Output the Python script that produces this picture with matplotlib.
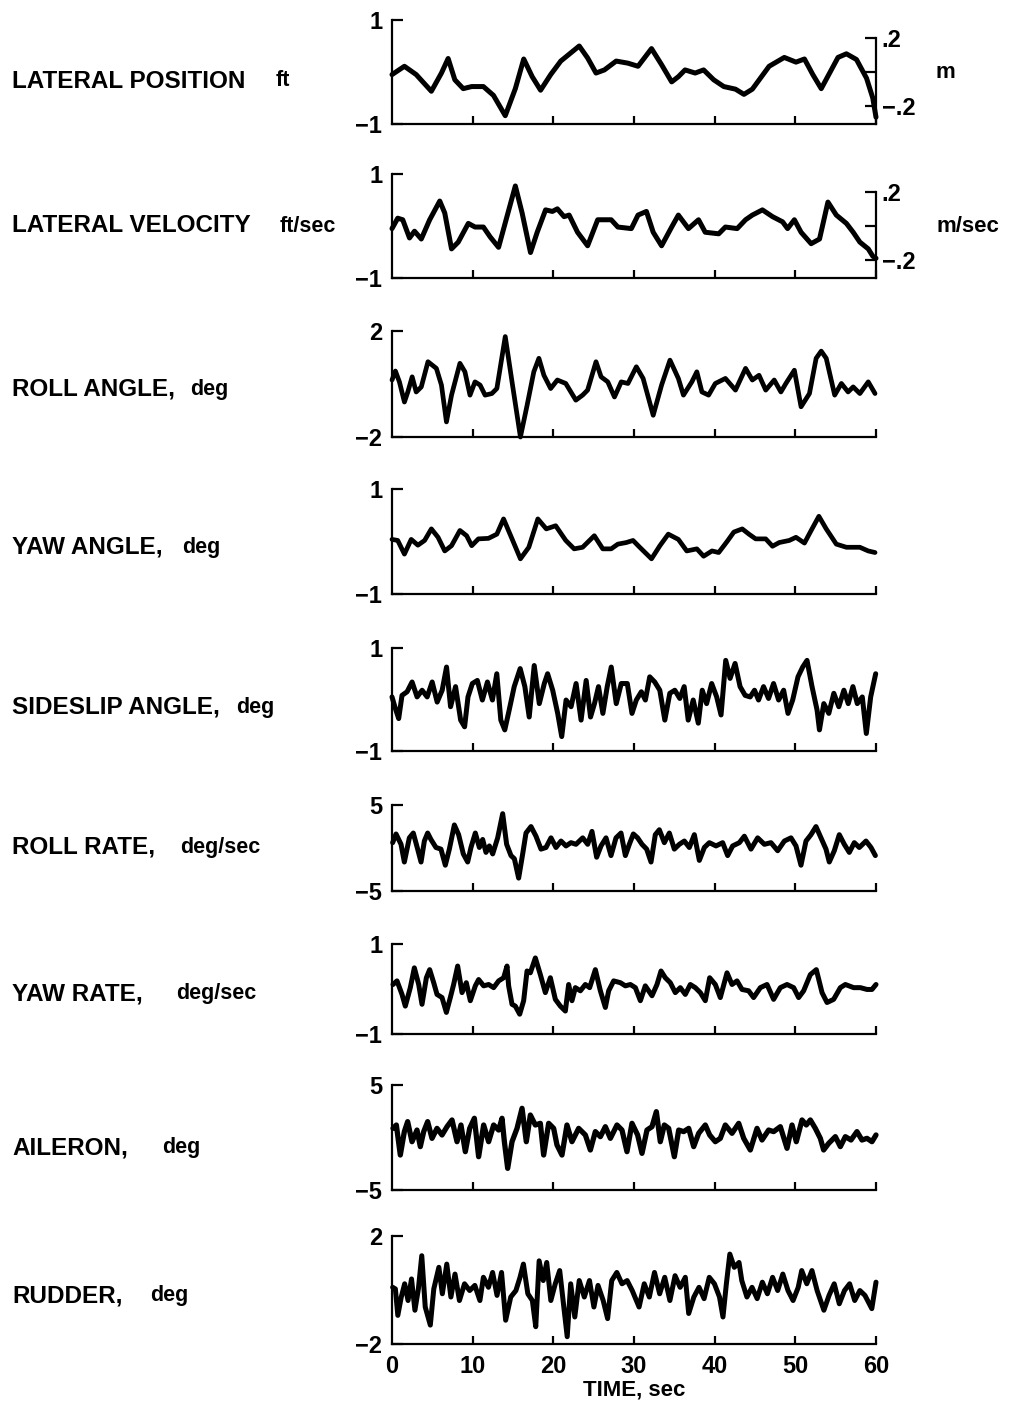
import matplotlib
matplotlib.use("Agg")
import matplotlib.pyplot as plt

plt.rcParams['font.family'] = ['Liberation Sans', 'DejaVu Sans']
plt.rcParams['font.weight'] = 'bold'

# ---------------- data ----------------
t_latpos = [0, 1.54, 3.0, 4.88, 6.13, 6.96, 7.79, 8.83, 9.88, 11.33, 12.58, 14.04, 15.29, 16.33,
            17.38, 18.42, 19.67, 20.92, 23.21, 24.25, 25.29, 26.33, 27.79, 29.25, 30.5, 32.17,
            33.42, 34.67, 35.5, 36.33, 37.58, 38.63, 39.88, 41.13, 42.58, 43.63, 44.67, 46.75,
            48.63, 50.08, 51.13, 52.17, 53.21, 54.25, 55.29, 56.33, 57.58, 58.83, 59.6, 60.0]
latpos = [-0.05, 0.11, -0.05, -0.37, -0.02, 0.26, -0.15, -0.32, -0.28, -0.28, -0.45, -0.84, -0.32,
          0.25, -0.09, -0.35, -0.05, 0.21, 0.50, 0.27, -0.02, 0.04, 0.21, 0.17, 0.11, 0.45,
          0.14, -0.19, -0.09, 0.04, -0.02, 0.04, -0.15, -0.28, -0.33, -0.43, -0.33, 0.11,
          0.28, 0.19, 0.25, -0.05, -0.32, -0.02, 0.28, 0.35, 0.24, -0.12, -0.50, -0.87]

t_latvel = [0, 0.71, 1.33, 2.17, 2.79, 3.63, 4.67, 5.92, 6.54, 7.38, 8.21, 9.46, 10.29, 11.33,
            12.17, 13.21, 14.25, 15.29, 16.13, 17.17, 18.0, 19.04, 19.88, 20.5, 21.33, 21.96,
            23.0, 24.25, 25.5, 27.17, 28.0, 29.67, 30.5, 31.54, 32.38, 33.42, 34.67, 35.5,
            36.75, 38.0, 38.83, 40.5, 41.33, 42.79, 43.83, 44.67, 45.92, 47.17, 48.42, 49.04,
            49.88, 50.71, 51.96, 53.0, 54.04, 55.08, 56.33, 57.17, 58.0, 59.04, 59.6, 60.0]
latvel = [-0.05, 0.15, 0.12, -0.23, -0.10, -0.25, 0.12, 0.48, 0.25, -0.44, -0.31, 0.05, -0.02, -0.02,
          -0.21, -0.41, 0.18, 0.77, 0.25, -0.51, -0.12, 0.31, 0.28, 0.33, 0.18, 0.21,
          -0.12, -0.38, 0.12, 0.12, -0.02, -0.05, 0.21, 0.28, -0.12, -0.38, -0.02, 0.21,
          -0.05, 0.12, -0.12, -0.15, -0.02, -0.05, 0.12, 0.21, 0.31, 0.18, 0.08, -0.05,
          0.12, -0.12, -0.34, -0.25, 0.46, 0.21, 0.05, -0.12, -0.31, -0.44, -0.58, -0.62]

t_roll = [0, 0.42, 0.92, 1.54, 1.96, 2.5, 3.0, 3.63, 4.46, 5.5, 6.13, 6.75, 7.38, 8.42, 9.04,
          9.67, 10.29, 10.92, 11.54, 12.38, 13.0, 14.04, 14.88, 15.92, 16.75, 17.58, 18.21,
          18.83, 19.67, 20.5, 21.54, 22.79, 23.63, 24.25, 25.29, 25.92, 26.75, 27.58, 28.42,
          29.25, 30.29, 31.13, 32.38, 33.42, 34.46, 35.5, 36.13, 37.17, 37.79, 38.42, 39.25,
          40.08, 41.33, 42.58, 43.83, 44.67, 45.5, 46.33, 47.38, 48.21, 48.83, 49.88, 50.71,
          51.75, 52.58, 53.21, 53.83, 54.88, 55.71, 56.54, 57.17, 58.0, 59.04, 59.88]
roll = [0.15, 0.49, 0.08, -0.68, -0.30, 0.27, -0.30, -0.11, 0.84, 0.59, -0.04, -1.43, -0.42, 0.78, 0.46,
        -0.42, 0.08, -0.04, -0.42, -0.36, -0.17, 1.79, 0.08, -2.0, -0.80, 0.46, 0.97,
        0.33, -0.17, 0.15, 0.02, -0.61, -0.42, -0.23, 0.84, 0.27, 0.08, -0.49, 0.08,
        0.02, 0.65, 0.21, -1.18, -0.04, 0.90, 0.21, -0.42, 0.08, 0.46, -0.30, -0.42,
        0.02, 0.21, -0.23, 0.59, 0.15, 0.33, -0.23, 0.15, -0.30, 0.02, 0.52, -0.86,
        -0.36, 0.97, 1.24, 0.97, -0.42, 0.02, -0.30, -0.11, -0.36, 0.08, -0.36]

t_yaw = [0, 0.71, 1.54, 2.38, 3.21, 4.04, 4.88, 5.71, 6.54, 7.38, 8.42, 9.25, 9.88, 10.71, 11.96,
         13.0, 13.83, 14.88, 15.92, 16.96, 18.08, 19.13, 20.29, 21.54, 22.58, 23.63, 25.08,
         26.13, 27.17, 28.0, 29.04, 29.88, 30.71, 32.17, 33.21, 34.25, 35.5, 36.54, 37.79,
         38.63, 39.67, 40.5, 41.54, 42.38, 43.42, 44.25, 45.08, 46.33, 47.17, 48.0, 49.25,
         50.08, 51.13, 51.96, 52.92, 53.83, 55.08, 56.33, 57.17, 58.0, 59.04, 59.88]
yaw = [0.04, 0.02, -0.24, 0.04, -0.07, 0.02, 0.24, 0.08, -0.18, -0.08, 0.21, 0.11, -0.08, 0.05, 0.06,
       0.14, 0.43, 0.05, -0.33, -0.11, 0.43, 0.24, 0.30, 0.02, -0.14, -0.11, 0.11,
       -0.14, -0.14, -0.05, -0.02, 0.02, -0.11, -0.33, -0.08, 0.14, 0.04, -0.18, -0.14,
       -0.28, -0.18, -0.21, 0.0, 0.18, 0.24, 0.14, 0.05, 0.05, -0.09, -0.02, 0.02,
       0.08, -0.03, 0.21, 0.48, 0.24, -0.05, -0.11, -0.11, -0.11, -0.18, -0.21]

t_slip = [0.0, 0.41, 0.83, 1.24, 1.87, 2.49, 3.11, 3.73, 4.36, 4.98, 5.60, 6.22, 6.76, 7.26, 7.88,
          8.51, 9.00, 9.42, 9.96, 10.58, 11.20, 11.83, 12.45, 12.99, 13.49, 13.98, 14.52,
          15.15, 15.89, 16.47, 17.01, 17.63, 18.26, 18.88, 19.29, 19.92, 20.54, 21.04, 21.58,
          22.20, 22.82, 23.44, 24.07, 24.61, 25.10, 25.60, 26.14, 26.68, 27.18, 27.80, 28.42,
          29.17, 29.75, 30.29, 30.91, 31.41, 31.95, 32.57, 33.20, 33.82, 34.44, 35.06, 35.68,
          36.22, 36.72, 37.34, 37.97, 38.46, 39.00, 39.63, 40.25, 40.79, 41.37, 41.91, 42.53,
          43.15, 43.78, 44.40, 44.94, 45.44, 46.06, 46.68, 47.30, 47.93, 48.55, 49.09, 49.67,
          50.33, 50.91, 51.45, 52.07, 52.70, 52.99, 53.53, 54.15, 54.77, 55.39, 56.02, 56.56,
          57.14, 57.68, 58.30, 58.80, 59.34, 59.96]
slip = [0.05, -0.17, -0.37, 0.08, 0.15, 0.34, 0.05, 0.18, 0.05, 0.34, -0.05, 0.18, 0.63, -0.14, 0.25,
        -0.40, -0.53, 0.05, 0.31, 0.37, -0.01, 0.34, -0.01, 0.50, -0.40, -0.59, -0.21,
        0.25, 0.60, 0.25, -0.34, 0.66, -0.08, 0.31, 0.50, 0.18, -0.27, -0.72, -0.01,
        -0.14, 0.31, -0.40, 0.37, -0.34, -0.08, 0.25, -0.27, 0.25, 0.63, -0.08, 0.31,
        0.31, -0.27, -0.01, 0.15, -0.01, 0.44, 0.34, 0.18, -0.40, 0.12, 0.18, 0.02,
        0.25, -0.40, -0.01, -0.46, 0.18, -0.08, 0.31, 0.05, -0.30, 0.76, 0.41, 0.70,
        0.25, 0.08, 0.05, 0.18, -0.01, 0.25, 0.02, 0.31, -0.01, 0.18, -0.27, -0.01,
        0.44, 0.63, 0.76, 0.25, -0.21, -0.59, -0.08, -0.27, 0.12, -0.14, 0.18, -0.08,
        0.25, -0.08, 0.05, -0.66, 0.05, 0.50]

t_rollrate = [0.08, 0.50, 1.12, 1.53, 2.15, 2.64, 3.18, 3.60, 4.01, 4.42, 4.83, 5.45, 6.07, 6.61,
              7.11, 7.73, 8.26, 8.84, 9.38, 9.79, 10.33, 10.83, 11.24, 11.65, 12.07, 12.48,
              13.10, 13.72, 14.21, 14.75, 15.17, 15.70, 16.20, 16.61, 17.23, 17.85, 18.47,
              19.09, 19.71, 20.33, 20.95, 21.57, 22.19, 22.81, 23.64, 24.26, 24.79, 25.37,
              25.91, 26.53, 27.15, 27.77, 28.39, 28.93, 29.42, 29.92, 30.45, 30.99, 31.57,
              32.11, 32.64, 33.14, 33.76, 34.38, 35.00, 35.62, 36.24, 36.86, 37.48, 38.10,
              38.72, 39.34, 40.17, 40.99, 41.61, 42.23, 43.06, 43.68, 44.50, 45.33, 46.16,
              46.98, 47.81, 48.64, 49.46, 50.08, 50.70, 51.32, 51.94, 52.56, 53.18, 53.80,
              54.21, 54.83, 55.45, 56.07, 56.69, 57.31, 57.93, 58.76, 59.38, 59.92]
rollrate = [0.62, 1.63, 0.43, -1.63, 1.18, 1.74, -0.13, -1.63, 0.81, 1.74, 0.99, 0.06, -0.13, -2.00,
            -0.13, 2.68, 1.55, -0.69, -1.63, 0.06, 1.74, 0.06, 0.99, -0.51, 0.24, -0.69,
            1.18, 3.99, 0.43, -0.88, -1.25, -3.50, -0.69, 1.74, 2.49, 1.37, -0.13,
            0.06, 1.18, 0.06, 0.81, 0.24, 0.62, 0.43, 1.18, 0.43, 1.93, -1.07,
            0.24, 1.18, -0.88, 1.18, 1.74, -0.88, 0.43, 1.63, 1.18, 0.43, -0.13,
            -1.63, 1.55, 2.12, 0.62, 1.74, -0.13, 0.43, 0.81, 0.06, 1.55, -1.44,
            0.06, 0.62, 0.24, 0.62, -0.88, 0.24, 0.62, 1.37, -0.13, 1.18, 0.43,
            0.62, -0.32, 0.81, 1.18, 0.24, -2.00, 0.81, 1.55, 2.49, 1.18, -0.13,
            -1.63, -0.32, 1.55, 0.43, -0.51, 0.62, 0.06, 0.81, 0.06, -0.88]

t_yawrate = [0.12, 0.62, 1.24, 1.65, 2.27, 2.77, 3.31, 3.72, 4.26, 4.67, 5.17, 5.58, 6.20, 6.74,
             7.23, 7.64, 8.14, 8.68, 9.21, 9.71, 10.33, 10.74, 11.36, 11.98, 12.60, 13.22,
             13.84, 14.26, 14.46, 14.88, 15.29, 15.83, 16.32, 16.74, 17.15, 17.77, 18.39,
             19.01, 19.63, 20.25, 20.87, 21.49, 21.90, 22.31, 22.73, 23.35, 23.97, 24.50,
             25.21, 25.83, 26.45, 26.86, 27.48, 28.31, 28.93, 29.55, 30.17, 30.79, 31.40,
             32.23, 32.85, 33.35, 33.88, 34.50, 35.12, 35.74, 36.36, 36.98, 37.60, 38.22,
             38.84, 39.38, 40.08, 40.70, 41.53, 42.15, 42.77, 43.39, 44.21, 44.83, 45.66,
             46.49, 47.31, 48.14, 48.97, 49.79, 50.41, 51.03, 51.86, 52.60, 53.31, 53.93,
             54.75, 55.58, 56.20, 57.23, 58.06, 58.88, 59.50, 60.0]
yawrate = [0.10, 0.18, -0.12, -0.38, 0.03, 0.47, 0.10, -0.34, 0.25, 0.43, 0.14, -0.12, -0.19, -0.52,
           -0.19, 0.10, 0.51, -0.08, 0.14, -0.26, 0.07, 0.21, 0.07, 0.10, 0.03, 0.18,
           0.25, 0.51, 0.07, -0.34, -0.38, -0.56, -0.26, 0.40, 0.36, 0.69, 0.32,
           -0.08, 0.25, -0.23, -0.38, -0.49, 0.10, -0.26, 0.03, -0.04, 0.10, 0.03,
           0.43, -0.04, -0.41, -0.04, 0.18, 0.14, 0.07, 0.10, 0.03, -0.26, 0.07,
           -0.15, 0.10, 0.40, 0.25, 0.14, -0.08, 0.03, -0.12, 0.10, 0.03, -0.08,
           -0.26, 0.25, 0.10, -0.19, 0.36, 0.10, 0.18, -0.01, -0.04, -0.19, 0.03,
           0.10, -0.23, 0.03, 0.10, 0.03, -0.19, -0.04, 0.32, 0.43, -0.08, -0.30,
           -0.23, 0.03, 0.10, 0.03, 0.03, -0.01, -0.01, 0.10]

t_ail = [0.12, 0.54, 1.03, 1.53, 1.94, 2.48, 3.10, 3.51, 3.93, 4.42, 4.96, 5.58, 6.20, 6.82, 7.44,
         8.06, 8.55, 9.09, 9.63, 10.21, 10.74, 11.36, 11.98, 12.60, 13.22, 13.64, 13.93, 14.34,
         14.88, 15.50, 16.12, 16.65, 17.15, 17.77, 18.39, 18.80, 19.42, 20.04, 20.45, 21.07,
         21.69, 22.31, 23.14, 23.97, 24.59, 25.21, 25.83, 26.45, 27.07, 27.89, 28.51, 29.13,
         29.75, 30.45, 30.99, 31.61, 32.23, 32.77, 33.26, 33.76, 34.30, 35.00, 35.54, 36.16,
         36.78, 37.40, 38.02, 38.84, 39.38, 40.08, 40.70, 41.32, 42.15, 42.98, 43.60, 44.42,
         45.25, 45.87, 46.69, 47.31, 48.14, 48.97, 49.59, 50.12, 50.83, 51.36, 51.86, 52.48,
         53.10, 53.51, 54.13, 54.96, 55.58, 56.20, 56.90, 57.64, 58.26, 58.88, 59.50, 60.0]
ail = [0.87, 1.19, -1.67, 0.56, 1.51, -0.40, 0.71, -0.87, 0.56, 1.51, -0.08, 0.87, 0.24, 1.03, 1.67,
       -0.40, 1.19, -1.35, 0.87, 1.83, -1.83, 1.19, -0.40, 1.19, 0.71, 1.83, -0.40, -2.94,
       -0.40, 0.87, 2.78, -0.40, 2.14, 1.19, 1.35, -1.67, 1.35, 0.87, -0.71, -1.67,
       1.19, -0.40, 0.87, 0.24, -1.19, 0.56, 0.08, 1.03, -0.08, 1.19, 0.71, -1.35,
       1.35, 0.24, -1.51, 0.71, 1.03, 2.46, -0.40, 1.19, 0.87, -1.83, 0.71, 0.56,
       0.87, -0.87, 0.40, 1.19, 0.24, -0.40, -0.08, 1.19, 0.40, 1.35, -0.08, -1.19,
       0.87, -0.24, 0.71, 0.56, 1.03, -1.03, 1.19, -0.40, 1.67, 1.19, 1.67, 0.87,
       -0.08, -1.19, -0.56, 0.08, -0.87, 0.08, -0.24, 0.56, -0.24, -0.08, -0.40, 0.24]

t_rud = [0.08, 0.42, 0.72, 1.15, 1.57, 1.99, 2.42, 2.84, 3.27, 3.69, 4.12, 4.75, 5.18, 5.81, 6.24,
         6.79, 7.30, 7.81, 8.36, 8.99, 9.63, 10.27, 10.90, 11.33, 11.96, 12.47, 13.02, 13.58,
         14.09, 14.72, 15.36, 15.87, 16.29, 16.84, 17.40, 17.82, 18.24, 18.75, 19.18, 19.69,
         20.24, 20.79, 21.30, 21.72, 22.15, 22.66, 23.21, 23.84, 24.48, 25.03, 25.54, 26.18,
         26.73, 27.24, 27.87, 28.51, 29.15, 29.78, 30.63, 31.27, 31.90, 32.54, 33.18, 33.81,
         34.45, 35.09, 35.72, 36.36, 36.78, 37.42, 38.06, 38.69, 39.33, 39.97, 40.60, 41.03,
         41.45, 41.88, 42.43, 43.02, 43.36, 44.00, 44.63, 45.27, 45.91, 46.54, 47.18, 47.81,
         48.45, 49.09, 49.72, 50.36, 50.79, 51.42, 52.06, 52.70, 53.54, 54.18, 54.82, 55.45,
         56.09, 56.73, 57.36, 58.00, 58.63, 59.48, 60.0]
rud = [0.10, 0.04, -0.94, -0.26, 0.23, -0.39, 0.41, -0.75, 0.04, 1.27, -0.63, -1.30, 0.04, 0.84, -0.14,
       0.96, -0.26, 0.59, -0.39, 0.23, -0.02, 0.17, -0.39, 0.47, 0.10, 0.65, -0.20, 0.65,
       -1.12, -0.26, -0.02, 0.47, 0.96, -0.14, -0.39, -1.36, 1.08, 0.35, 1.02, -0.39,
       0.23, 0.72, -0.63, -1.73, 0.23, -1.00, 0.35, -0.26, 0.35, -0.63, 0.17, -0.39,
       -1.06, 0.35, 0.65, 0.23, 0.35, -0.02, -0.63, 0.23, -0.26, 0.65, -0.14, 0.47,
       -0.39, 0.53, 0.10, 0.47, -0.87, -0.26, 0.10, -0.32, 0.47, 0.23, -0.26, -1.00,
       0.23, 1.33, 0.84, 1.02, 0.35, -0.26, 0.10, -0.32, 0.29, -0.14, 0.47, -0.02,
       0.59, -0.02, -0.39, 0.10, 0.72, 0.23, 0.72, -0.02, -0.75, -0.20, 0.23, -0.51,
       -0.02, 0.23, -0.39, -0.02, -0.20, -0.69, 0.29]

labels_main = ["LATERAL POSITION", "LATERAL VELOCITY", "ROLL ANGLE,", "YAW ANGLE,",
               "SIDESLIP ANGLE,", "ROLL RATE,", "YAW RATE,", "AILERON,", "RUDDER,"]
labels_unit = ["ft", "ft/sec", "deg", "deg", "deg", "deg/sec", "deg/sec", "deg", "deg"]
yranges = [1, 1, 2, 1, 1, 5, 1, 5, 2]
x_ticks = [0, 10, 20, 30, 40, 50, 60]
right_units = ["m", "m/sec"]
right_ticks = [-0.2, 0.0, 0.2]
right_ticklabels = ["\u2212.2", "", ".2"]
FT_TO_M = 0.3048

series = [(t_latpos, latpos), (t_latvel, latvel), (t_roll, roll), (t_yaw, yaw),
          (t_slip, slip), (t_rollrate, rollrate), (t_yawrate, yawrate),
          (t_ail, ail), (t_rud, rud)]

# ---------------- layout ----------------
W, H = 1010, 1406
fig = plt.figure(figsize=(W / 100, H / 100), dpi=100)
fig.patch.set_facecolor("white")

ax_left, ax_right = 392, 876
panel_px = [(20, 124), (174, 278), (331, 437), (489, 594), (648, 751),
            (805, 891), (944, 1034), (1085, 1190), (1236, 1344)]
label_y = [81, 226, 389, 547, 707, 847, 994, 1148, 1296]
unit_x = [276, 280, 190, 182, 236, 180, 176, 162, 150]
lw_curve = [3.6, 3.6, 3.4, 3.4, 3.6, 3.6, 3.6, 3.8, 3.6]
TICK_FS = 17

for i, ((tt, yy), r) in enumerate(zip(series, yranges)):
    top, bot = panel_px[i]
    ax = fig.add_axes([ax_left / W, 1 - bot / H, (ax_right - ax_left) / W, (bot - top) / H])
    ax.plot(tt, yy, color="black", lw=lw_curve[i], solid_joinstyle="round",
            solid_capstyle="round", clip_on=False)
    ax.set_xlim(0, 60)
    ax.set_ylim(-r, r)
    for s in ("top", "right"):
        ax.spines[s].set_visible(False)
    for s in ("left", "bottom"):
        ax.spines[s].set_linewidth(1.6)
    ax.set_yticks([-r, r])
    ax.set_yticklabels(["\u2212%d" % r, "%d" % r])
    ax.tick_params(axis="y", direction="in", length=8, width=1.6, pad=7,
                   labelsize=TICK_FS)
    ax.set_xticks(x_ticks[1:])
    ax.tick_params(axis="x", direction="in", length=6, width=1.6, pad=8,
                   labelsize=TICK_FS)
    if i == len(series) - 1:
        ax.set_xticks(x_ticks)
        ax.set_xticklabels([str(v) for v in x_ticks])
        ax.get_xticklines()[0].set_visible(False)
        ax.set_xlabel("TIME, sec", fontsize=16, fontweight="bold", labelpad=1)
    else:
        ax.set_xticklabels([])
    for lab in ax.get_xticklabels() + ax.get_yticklabels():
        lab.set_fontweight("bold")

    if i < 2:
        ax2 = ax.twinx()
        ax2.set_ylim(-r * FT_TO_M, r * FT_TO_M)
        for s in ("top", "left", "bottom"):
            ax2.spines[s].set_visible(False)
        ax2.spines["right"].set_linewidth(1.6)
        ax2.spines["right"].set_bounds(-r * FT_TO_M, 0.2)
        ax2.set_yticks(right_ticks)
        ax2.set_yticklabels(right_ticklabels)
        ax2.tick_params(axis="y", direction="in", length=8, width=1.6, pad=4,
                        labelsize=TICK_FS)
        for lab in ax2.get_yticklabels():
            lab.set_fontweight("bold")
        ux = 945 if i == 0 else 968
        fig.text(ux / W, 1 - (top + bot) / 2 / H, right_units[i], fontsize=16,
                 fontweight="bold", ha="center", va="center")

    fig.text(12 / W, 1 - label_y[i] / H, labels_main[i], fontsize=17.5,
             fontweight="bold", ha="left", va="center")
    fig.text(unit_x[i] / W, 1 - label_y[i] / H, labels_unit[i], fontsize=15.5,
             fontweight="bold", ha="left", va="center")

fig.savefig("out.png", dpi=100, facecolor="white")
